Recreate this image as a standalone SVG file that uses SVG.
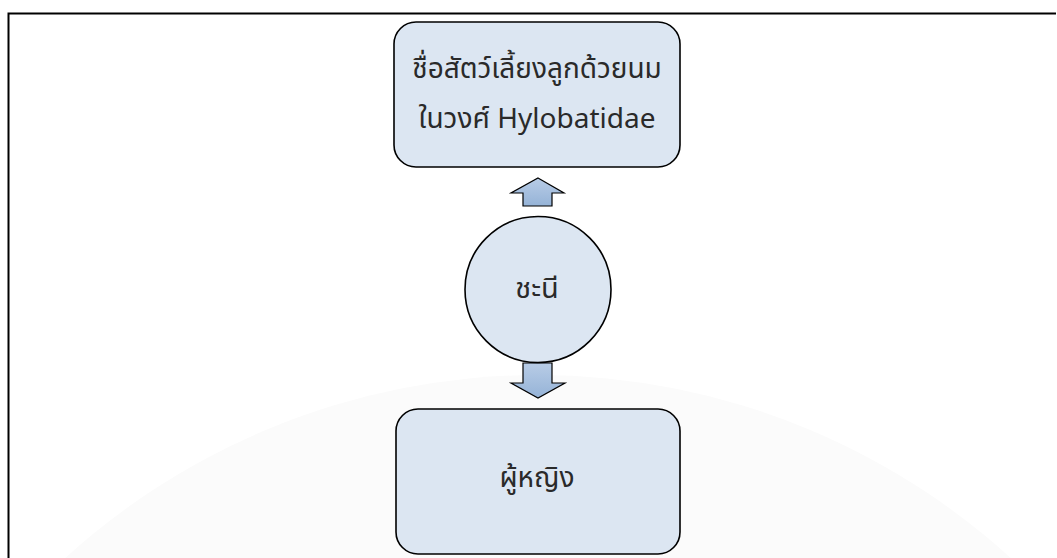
<svg xmlns="http://www.w3.org/2000/svg" width="1057" height="558" viewBox="0 0 1057 558">
<style>
.box{fill:#dce6f2;stroke:#000;stroke-width:1.6}
.t{font-family:"Noto Sans Thai","Noto Sans","DejaVu Sans",sans-serif;font-size:28px;fill:#2a2a2a;text-anchor:middle}
.arrow{fill:url(#ag);stroke:#000;stroke-width:1.2;stroke-linejoin:miter}
</style>
<defs>
<linearGradient id="ag" x1="0" y1="0" x2="0" y2="1">
<stop offset="0" stop-color="#b8cce6"/>
<stop offset="1" stop-color="#95b3d7"/>
</linearGradient>
</defs>
<rect width="1057" height="558" fill="#fff"/>
<circle cx="538" cy="1077" r="702" fill="#fbfbfb"/>
<path d="M8.5 558 V13.5 H1056" fill="none" stroke="#000" stroke-width="2"/>
<g id="connectors">
<path class="arrow" d="M538 178 L564 193 L552 193 L552 206 L523 206 L523 193 L511 193 Z"/>
<path class="arrow" d="M523 363 L552 363 L552 383 L565 383 L538 398 L511 383 L523 383 Z"/>
</g>
<g id="node-top">
<rect class="box" x="394" y="22" width="286" height="145" rx="22"/>
<text class="t" x="537" y="78">ชื่อสัตว์เลี้ยงลูกด้วยนม</text>
<text class="t" x="537" y="128">ในวงศ์ Hylobatidae</text>
</g>
<g id="node-center">
<circle class="box" cx="538" cy="289.5" r="73"/>
<text class="t" x="537" y="298" style="font-size:29px">ชะนี</text>
</g>
<g id="node-bottom">
<rect class="box" x="396" y="409" width="284" height="145" rx="22"/>
<text class="t" x="537" y="487">ผู้หญิง</text>
</g>
</svg>
